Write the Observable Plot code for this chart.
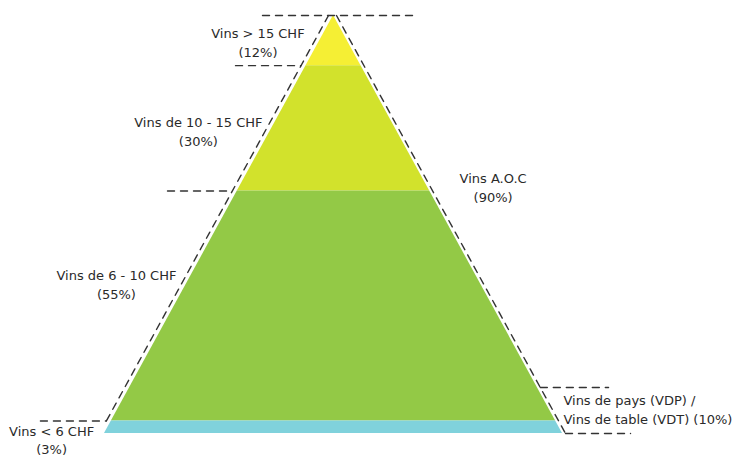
<!DOCTYPE html>
<html>
<head>
<meta charset="utf-8">
<script src="https://cdn.jsdelivr.net/npm/d3@7"></script>
<script src="https://cdn.jsdelivr.net/npm/@observablehq/plot@0.6"></script>
<style>
  html, body { margin: 0; padding: 0; background: #ffffff; }
  #chart svg { display: block; }
</style>
</head>
<body>
<div id="chart"></div>
<script>
// ---- data ----
const priceCategories = ["Vins > 15 CHF", "Vins de 10 - 15 CHF", "Vins de 6 - 10 CHF", "Vins < 6 CHF"];
const priceShares = [12, 30, 55, 3];
const bandColors = ["#f5ef34", "#d2e22c", "#93c946", "#80d2dc"];
const groupCategories = ["Vins A.O.C", "Vins de pays (VDP) /\nVins de table (VDT)"];
const groupShares = [90, 10];

// cumulative depth (percent from apex) of each band
const cum = Array.from(d3.cumsum(priceShares));
const tops = [0, ...cum.slice(0, -1)];
const areaData = priceCategories.flatMap((c, i) => [
  {band: c, d: tops[i], x1: -tops[i] / 100, x2: tops[i] / 100},
  {band: c, d: cum[i], x1: -cum[i] / 100, x2: cum[i] / 100}
]);

// ---- layout (annotation anchors, in the chart's x/y units) ----
const leftBracketStarts = [-0.406, -0.703, -1.258];   // x where left dashed ticks start
const rightBracketDepth = 89;
const rightBracketEnds = [1.188, 1.284];
const priceLabelPos = [[-0.330, 6.2], [-0.59, 27.5], [-0.948, 64.1], [-1.231, 101.3]];
const groupLabelPos = [[0.697, 40.9], [1.004, 94.0]];

const leftLines = [
  // diagonal along left edge
  ...[0, cum[2]].map(d => ({id: "diag", x: -d / 100, y: d})),
  ...cum.slice(0, 3).flatMap((d, i) => [
    {id: "t" + i, x: leftBracketStarts[i], y: d},
    {id: "t" + i, x: -d / 100, y: d}
  ])
];
const rightLines = [
  ...[0, 100].map(d => ({id: "diag", x: d / 100, y: d})),
  ...[rightBracketDepth, 100].flatMap((d, i) => [
    {id: "r" + i, x: d / 100, y: d},
    {id: "r" + i, x: rightBracketEnds[i], y: d}
  ])
];
const topLine = [{x: -0.31, y: 0}, {x: 0.345, y: 0}];

const priceLabels = priceCategories.map((c, i) => ({
  text: `${c}\n(${priceShares[i]}%)`, x: priceLabelPos[i][0], y: priceLabelPos[i][1]
}));
const groupLabels = [
  {text: `${groupCategories[0]}\n(${groupShares[0]}%)`, x: groupLabelPos[0][0], y: groupLabelPos[0][1], anchor: "middle"},
  {text: `${groupCategories[1]} (${groupShares[1]}%)`, x: groupLabelPos[1][0], y: groupLabelPos[1][1], anchor: "start"}
];

const dash = {stroke: "#333", strokeWidth: 1.4, strokeDasharray: "7,6"};
const font = {fontFamily: "'DejaVu Sans', Verdana, sans-serif", fontSize: 13, fill: "#2a2a2a", lineHeight: 1.42};

const chart = Plot.plot({
  width: 737,
  height: 457,
  margin: 0,
  style: {background: "#ffffff"},
  x: {domain: [-1, 1], range: [104, 562], axis: null},
  y: {domain: [0, 100], range: [15, 433], axis: null},
  color: {domain: priceCategories, range: bandColors},
  marks: [
    Plot.areaX(areaData, {y: "d", x1: "x1", x2: "x2", z: "band", fill: "band", curve: "linear"}),
    Plot.line(topLine, {x: "x", y: "y", ...dash}),
    Plot.line(leftLines, {x: "x", y: "y", z: "id", dx: -5, ...dash}),
    Plot.line(rightLines, {x: "x", y: "y", z: "id", dx: 3, ...dash}),
    Plot.text(priceLabels, {x: "x", y: "y", text: "text", textAnchor: "middle", ...font}),
    Plot.text(groupLabels.filter(d => d.anchor === "middle"), {x: "x", y: "y", text: "text", textAnchor: "middle", ...font}),
    Plot.text(groupLabels.filter(d => d.anchor === "start"), {x: "x", y: "y", text: "text", textAnchor: "start", ...font})
  ]
});
document.getElementById("chart").appendChild(chart);
</script>
</body>
</html>
